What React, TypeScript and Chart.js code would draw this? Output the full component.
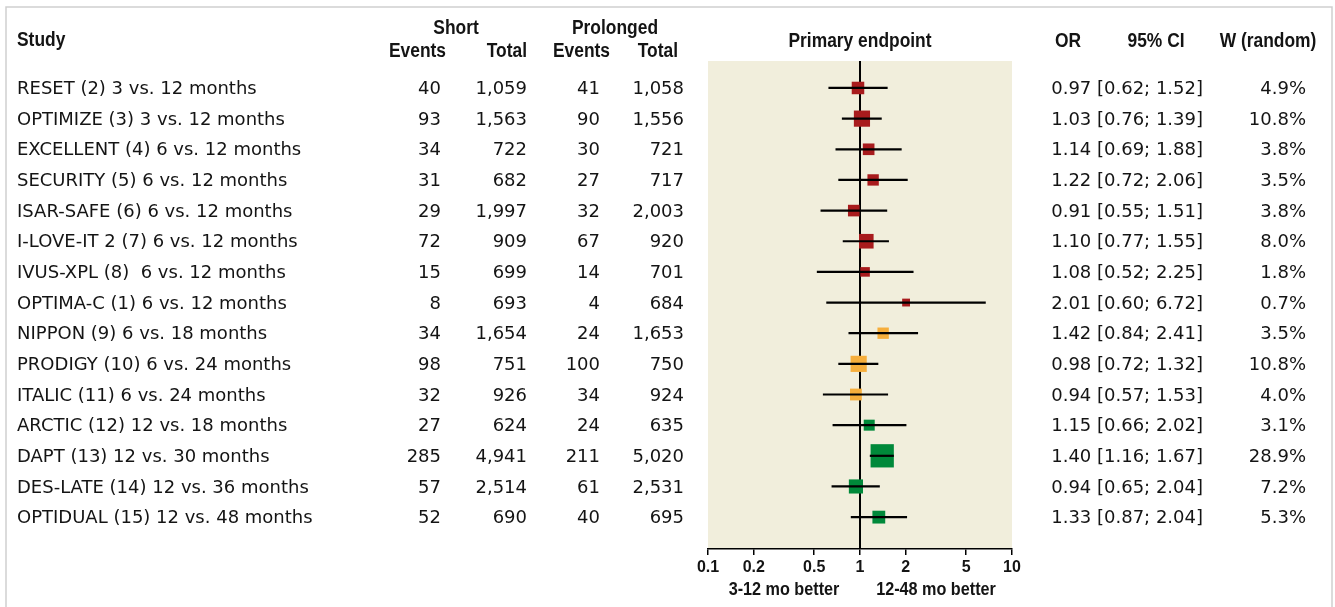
import React, { useEffect, useRef } from "react";
import { Chart, registerables } from "chart.js";

Chart.register(...registerables);

const studies = [
  "RESET (2) 3 vs. 12 months",
  "OPTIMIZE (3) 3 vs. 12 months",
  "EXCELLENT (4) 6 vs. 12 months",
  "SECURITY (5) 6 vs. 12 months",
  "ISAR-SAFE (6) 6 vs. 12 months",
  "I-LOVE-IT 2 (7) 6 vs. 12 months",
  "IVUS-XPL (8)  6 vs. 12 months",
  "OPTIMA-C (1) 6 vs. 12 months",
  "NIPPON (9) 6 vs. 18 months",
  "PRODIGY (10) 6 vs. 24 months",
  "ITALIC (11) 6 vs. 24 months",
  "ARCTIC (12) 12 vs. 18 months",
  "DAPT (13) 12 vs. 30 months",
  "DES-LATE (14) 12 vs. 36 months",
  "OPTIDUAL (15) 12 vs. 48 months",
];
const shortEvents = [40, 93, 34, 31, 29, 72, 15, 8, 34, 98, 32, 27, 285, 57, 52];
const shortTotal = [1059, 1563, 722, 682, 1997, 909, 699, 693, 1654, 751, 926, 624, 4941, 2514, 690];
const longEvents = [41, 90, 30, 27, 32, 67, 14, 4, 24, 100, 34, 24, 211, 61, 40];
const longTotal = [1058, 1556, 721, 717, 2003, 920, 701, 684, 1653, 750, 924, 635, 5020, 2531, 695];
const orVals = [0.97, 1.03, 1.14, 1.22, 0.91, 1.1, 1.08, 2.01, 1.42, 0.98, 0.94, 1.15, 1.4, 0.94, 1.33];
const ciLow = [0.62, 0.76, 0.69, 0.72, 0.55, 0.77, 0.52, 0.6, 0.84, 0.72, 0.57, 0.66, 1.16, 0.65, 0.87];
// upper CI limits as printed in the table
const ciHighLabel = [1.52, 1.39, 1.88, 2.06, 1.51, 1.55, 2.25, 6.72, 2.41, 1.32, 1.53, 2.02, 1.67, 2.04, 2.04];
// upper CI limits as drawn in the plot
const ciHigh = [1.52, 1.39, 1.88, 2.06, 1.51, 1.55, 2.25, 6.72, 2.41, 1.32, 1.53, 2.02, 1.67, 1.35, 2.04];
const weights = [4.9, 10.8, 3.8, 3.5, 3.8, 8.0, 1.8, 0.7, 3.5, 10.8, 4.0, 3.1, 28.9, 7.2, 5.3];
const groups = ["a", "a", "a", "a", "a", "a", "a", "a", "b", "b", "b", "c", "c", "c", "c"];
const tickValues = [0.1, 0.2, 0.5, 1, 2, 5, 10];
const sideLabels = ["3-12 mo better", "12-48 mo better"];

const groupColors: Record<string, string> = { a: "#A81B1D", b: "#F6AE3C", c: "#00893A" };

const BODY = '18px "DejaVu Sans", "Liberation Sans", sans-serif';
const BOLD = 'bold 20px "Liberation Sans", Arial, sans-serif';
const AXISBOLD = 'bold 18px "Liberation Sans", Arial, sans-serif';
const TEXT = "#141414";

const fmt = (n: number) => n.toLocaleString("en-US");
const boxSide = (w: number) => 5 + 3.4 * Math.sqrt(w);

function condensed(ctx: CanvasRenderingContext2D, text: string, x: number, y: number, sx: number) {
  ctx.save();
  ctx.translate(x, y);
  ctx.scale(sx, 1);
  ctx.fillText(text, 0, 0);
  ctx.restore();
}

export default function App() {
  const ref = useRef<HTMLCanvasElement | null>(null);

  useEffect(() => {
    const canvas = ref.current;
    if (!canvas) return;

    const forestPlugin = {
      id: "forest",
      beforeDraw(chart: any) {
        const { ctx, chartArea: a } = chart;
        ctx.save();
        ctx.fillStyle = "#F1EEDC";
        ctx.fillRect(a.left, a.top, a.right - a.left, a.bottom - a.top);
        ctx.restore();
      },
      beforeDatasetsDraw(chart: any) {
        const { ctx, chartArea: a, scales } = chart;
        const x1 = scales.x.getPixelForValue(1);
        ctx.save();
        ctx.strokeStyle = "#000";
        ctx.lineWidth = 2;
        ctx.beginPath();
        ctx.moveTo(x1, a.top);
        ctx.lineTo(x1, a.bottom);
        ctx.stroke();
        ctx.restore();
      },
      afterDatasetsDraw(chart: any) {
        const { ctx, scales } = chart;
        ctx.save();
        ctx.strokeStyle = "#000";
        ctx.lineWidth = 2.2;
        for (let i = 0; i < studies.length; i++) {
          const y = scales.y.getPixelForValue(i);
          ctx.beginPath();
          ctx.moveTo(scales.x.getPixelForValue(ciLow[i]), y);
          ctx.lineTo(scales.x.getPixelForValue(ciHigh[i]), y);
          ctx.stroke();
        }
        ctx.restore();
      },
      afterDraw(chart: any) {
        const { ctx, scales, chartArea: a } = chart;
        ctx.save();
        // frame
        ctx.strokeStyle = "#cfcfcf";
        ctx.lineWidth = 1.5;
        ctx.beginPath();
        ctx.moveTo(6, 620);
        ctx.lineTo(6, 7);
        ctx.lineTo(1332, 7);
        ctx.lineTo(1332, 620);
        ctx.stroke();

        ctx.fillStyle = TEXT;
        ctx.textBaseline = "middle";
        // headers
        const sx = 0.87;
        ctx.font = BOLD;
        ctx.textAlign = "left";
        condensed(ctx, "Study", 17, 40, sx);
        ctx.textAlign = "center";
        condensed(ctx, "Short", 456, 28, sx);
        condensed(ctx, "Prolonged", 615, 28, sx);
        condensed(ctx, "Primary endpoint", (a.left + a.right) / 2, 41, sx);
        condensed(ctx, "OR", 1068, 41, sx);
        condensed(ctx, "95% CI", 1156, 41, sx);
        condensed(ctx, "W (random)", 1268, 41, sx);
        ctx.textAlign = "right";
        condensed(ctx, "Events", 446, 51, sx);
        condensed(ctx, "Total", 527, 51, sx);
        condensed(ctx, "Events", 610, 51, sx);
        condensed(ctx, "Total", 678, 51, sx);

        // rows
        ctx.font = BODY;
        for (let i = 0; i < studies.length; i++) {
          const y = scales.y.getPixelForValue(i) + 1.5;
          ctx.textAlign = "left";
          ctx.fillText(studies[i], 17, y);
          ctx.textAlign = "right";
          ctx.fillText(fmt(shortEvents[i]), 441, y);
          ctx.fillText(fmt(shortTotal[i]), 527, y);
          ctx.fillText(fmt(longEvents[i]), 600, y);
          ctx.fillText(fmt(longTotal[i]), 684, y);
          ctx.fillText(
            `${orVals[i].toFixed(2)} [${ciLow[i].toFixed(2)}; ${ciHighLabel[i].toFixed(2)}]`,
            1203,
            y
          );
          ctx.fillText(`${weights[i].toFixed(1)}%`, 1306, y);
        }

        // side labels
        ctx.font = AXISBOLD;
        ctx.textAlign = "center";
        condensed(ctx, sideLabels[0], scales.x.getPixelForValue(Math.sqrt(0.1)), 590, 0.9);
        condensed(ctx, sideLabels[1], scales.x.getPixelForValue(Math.sqrt(10)), 590, 0.9);
        ctx.restore();
      },
    };

    const chart = new Chart(canvas, {
      type: "scatter",
      data: {
        datasets: [
          {
            data: orVals.map((v, i) => ({ x: v, y: i })),
            pointStyle: "rect",
            pointRadius: (c: any) => boxSide(weights[c.dataIndex]) / Math.SQRT2,
            pointHoverRadius: (c: any) => boxSide(weights[c.dataIndex]) / Math.SQRT2,
            backgroundColor: orVals.map((_, i) => groupColors[groups[i]]),
            borderWidth: 0,
          } as any,
        ],
      },
      plugins: [forestPlugin],
      options: {
        responsive: false,
        animation: false,
        events: [],
        layout: { padding: { left: 708, right: 323, top: 61, bottom: 18 } },
        plugins: { legend: { display: false }, tooltip: { enabled: false } },
        scales: {
          x: {
            type: "logarithmic",
            min: 0.1,
            max: 10,
            position: "bottom",
            afterBuildTicks: (s: any) => {
              s.ticks = tickValues.map((v) => ({ value: v }));
            },
            afterFit: (s: any) => {
              s.height = 40;
            },
            ticks: {
              autoSkip: false,
              maxRotation: 0,
              padding: 3,
              color: TEXT,
              font: { family: '"Liberation Sans", Arial, sans-serif', size: 16, weight: "bold" },
              callback: (v: any) => String(v),
            },
            grid: { drawOnChartArea: false, drawTicks: true, tickLength: 6, color: "#000", lineWidth: 1.5 },
            border: { display: true, color: "#000", width: 1.5 },
          },
          y: {
            type: "linear",
            min: -0.88,
            max: 15.04,
            reverse: true,
            display: false,
          },
        },
      } as any,
    });

    return () => chart.destroy();
  }, []);

  return (
    <div style={{ position: "absolute", left: 0, top: 0, width: 1335, height: 607, background: "#fff" }}>
      <canvas ref={ref} width={1335} height={607} style={{ display: "block" }} />
    </div>
  );
}
